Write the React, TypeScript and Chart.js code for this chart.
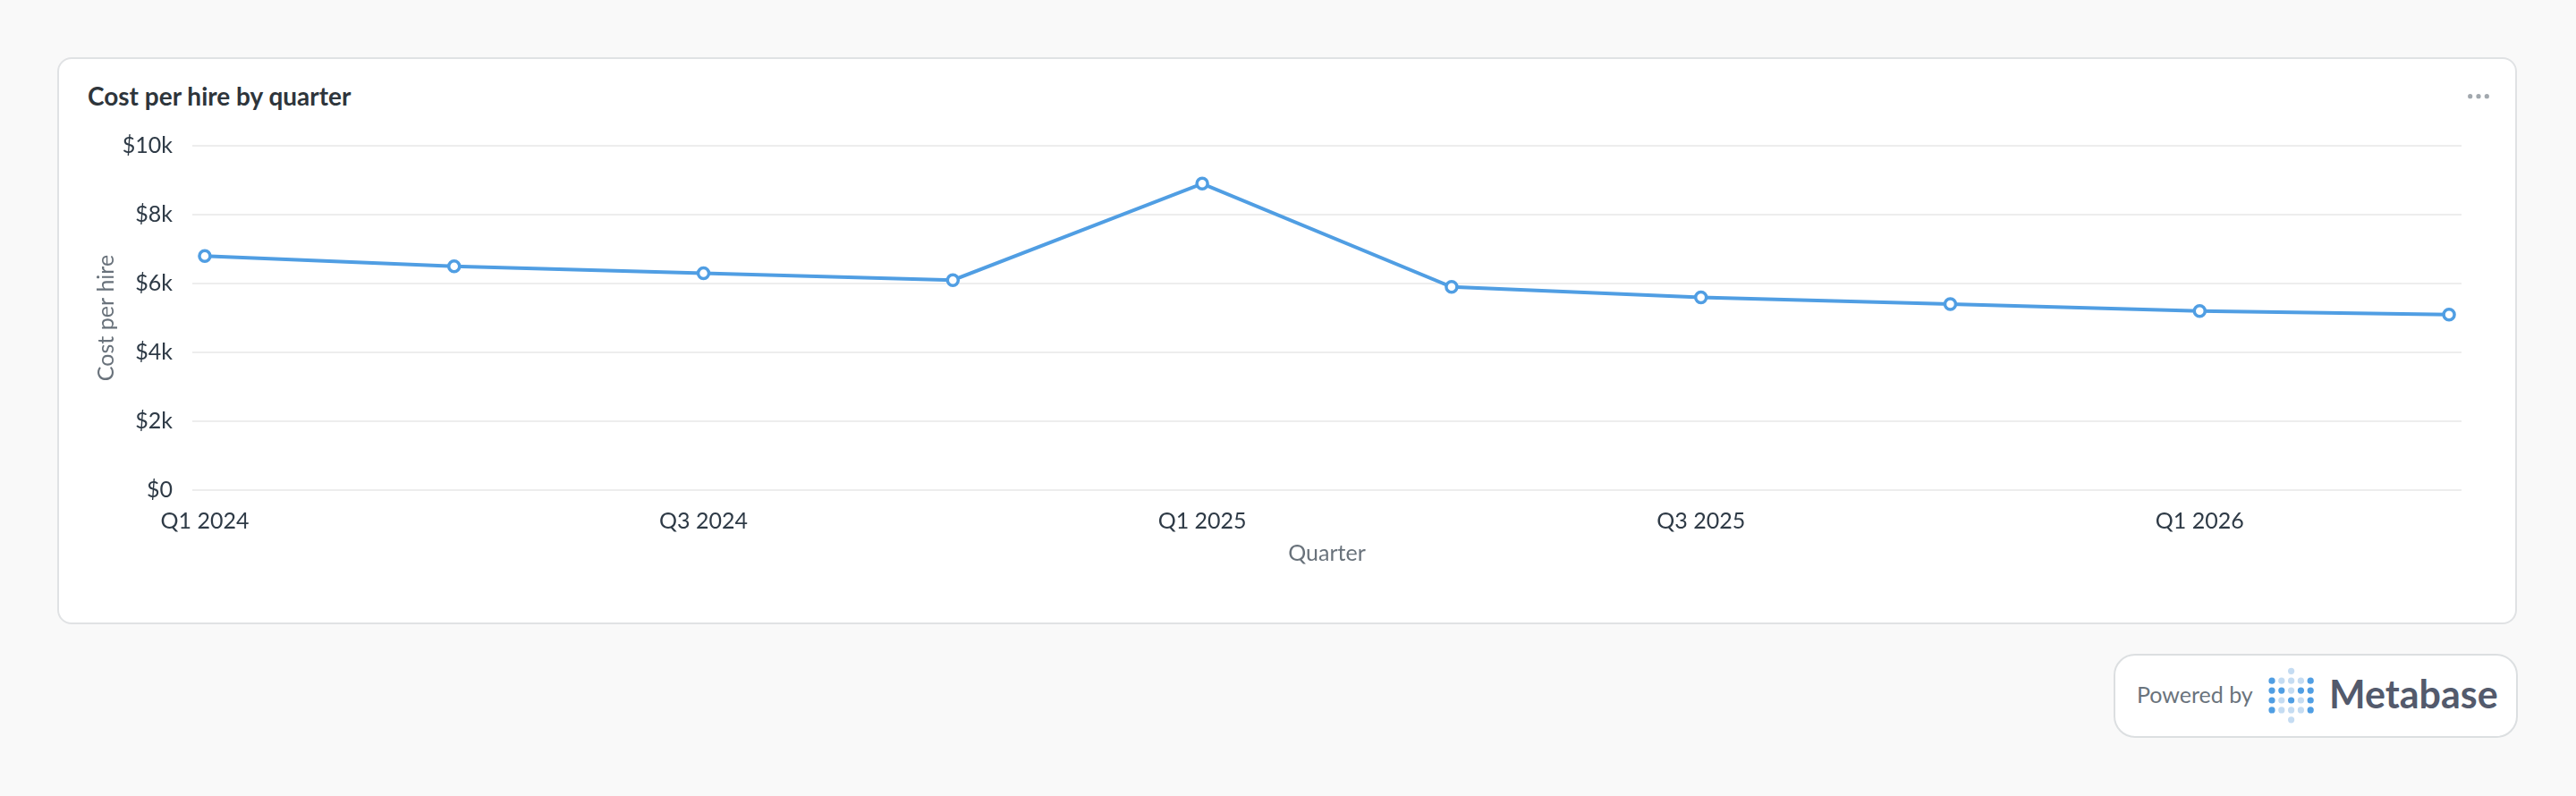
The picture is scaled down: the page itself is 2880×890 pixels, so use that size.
import { useEffect, useRef } from 'react';
import { Chart, ChartConfiguration, registerables } from 'chart.js';

Chart.register(...registerables);

// Chart data
const quarters = [
  'Q1 2024',
  'Q2 2024',
  'Q3 2024',
  'Q4 2024',
  'Q1 2025',
  'Q2 2025',
  'Q3 2025',
  'Q4 2025',
  'Q1 2026',
  'Q2 2026',
];
const costPerHire = [6800, 6500, 6300, 6100, 8900, 5900, 5600, 5400, 5200, 5100];
const yTickValues = [0, 2000, 4000, 6000, 8000, 10000];
const xTickIndexes = [0, 2, 4, 6, 8];

const FONT = "Lato, 'Noto Sans', sans-serif";

// Metabase logo dot pattern: 0 = none, 1 = light, 2 = dark
const logoRows = [
  [0, 0, 1, 0, 0],
  [2, 1, 1, 1, 2],
  [2, 2, 1, 2, 2],
  [2, 1, 2, 1, 2],
  [2, 1, 1, 1, 2],
  [0, 0, 1, 0, 0],
];

function formatMoney(v: number) {
  return v === 0 ? '$0' : `$${v / 1000}k`;
}

function CostChart() {
  const canvasRef = useRef<HTMLCanvasElement>(null);
  const chartRef = useRef<Chart | null>(null);

  useEffect(() => {
    if (!canvasRef.current) return;
    if (chartRef.current) chartRef.current.destroy();

    const ctx = canvasRef.current.getContext('2d');
    if (!ctx) return;

    const config: ChartConfiguration = {
      type: 'line',
      data: {
        datasets: [
          {
            label: 'Cost per hire',
            data: costPerHire.map((v, i) => ({ x: i, y: v })),
            borderColor: '#509ee3',
            borderWidth: 4,
            pointRadius: 6,
            pointBorderWidth: 3.5,
            pointBackgroundColor: '#ffffff',
            pointBorderColor: '#509ee3',
            tension: 0,
          },
        ],
      },
      options: {
        animation: false,
        responsive: true,
        maintainAspectRatio: false,
        layout: { padding: { top: 23, right: 48, left: 0, bottom: 0 } },
        plugins: {
          legend: { display: false },
          tooltip: { enabled: false },
        },
        scales: {
          x: {
            type: 'linear',
            min: -0.05,
            max: 9.05,
            afterBuildTicks: (scale) => {
              scale.ticks = xTickIndexes.map((v) => ({ value: v }));
            },
            afterFit: (scale) => {
              scale.height = 92;
            },
            grid: { display: false, drawTicks: false },
            border: { display: false },
            ticks: {
              autoSkip: false,
              maxRotation: 0,
              padding: 20,
              color: '#2e3a46',
              font: { family: FONT, size: 25 },
              callback: (value) => quarters[Number(value)] ?? '',
            },
            title: {
              display: true,
              text: 'Quarter',
              color: '#69727b',
              font: { family: FONT, size: 25 },
              padding: { top: 0, bottom: 6 },
            },
          },
          y: {
            min: 0,
            max: 10000,
            afterBuildTicks: (scale) => {
              scale.ticks = yTickValues.map((v) => ({ value: v }));
            },
            afterFit: (scale) => {
              scale.width = 115;
              // keep the tick label overflow from pushing the chart area down
              scale.paddingTop = 0;
              scale.paddingBottom = 0;
            },
            grid: { color: '#ededed', lineWidth: 2, drawTicks: false },
            border: { display: false },
            ticks: {
              padding: 22,
              color: '#2e3a46',
              font: { family: FONT, size: 25 },
              callback: (value) => formatMoney(Number(value)),
            },
            title: {
              display: true,
              text: 'Cost per hire',
              color: '#69727b',
              font: { family: FONT, size: 25 },
              padding: { top: 4, bottom: 0 },
            },
          },
        },
      },
    };

    chartRef.current = new Chart(ctx, config);

    return () => {
      if (chartRef.current) {
        chartRef.current.destroy();
        chartRef.current = null;
      }
    };
  }, []);

  return (
    <div style={{ position: 'absolute', left: 100, top: 140, width: 2700, height: 500 }}>
      <canvas ref={canvasRef}></canvas>
    </div>
  );
}

function MetabaseLogo() {
  return (
    <svg
      width={60}
      height={70}
      style={{ position: 'absolute', left: 2532, top: 742 }}
    >
      {logoRows.map((row, r) =>
        row.map((c, col) =>
          c === 0 ? null : (
            <circle
              key={`${r}-${col}`}
              cx={8 + col * 10.8}
              cy={8.3 + r * 10.9}
              r={3.6}
              fill={c === 2 ? '#509ee3' : '#c5dcf2'}
            />
          )
        )
      )}
    </svg>
  );
}

export default function App() {
  return (
    <div
      style={{
        position: 'fixed',
        left: 0,
        top: 0,
        width: 2880,
        height: 890,
        overflow: 'hidden',
        background: '#f9f9f9',
        fontFamily: FONT,
      }}
    >
      {/* card */}
      <div
        style={{
          position: 'absolute',
          left: 64,
          top: 64,
          width: 2750,
          height: 634,
          boxSizing: 'border-box',
          background: '#ffffff',
          border: '2px solid #e0e2e4',
          borderRadius: 16,
        }}
      />
      <div
        style={{
          position: 'absolute',
          left: 98,
          top: 91,
          fontSize: 28,
          lineHeight: '32px',
          fontWeight: 700,
          color: '#2e353b',
          whiteSpace: 'nowrap',
        }}
      >
        Cost per hire by quarter
      </div>
      <svg width={40} height={12} style={{ position: 'absolute', left: 2752, top: 102 }}>
        {[9.7, 19, 28.3].map((cx) => (
          <circle key={cx} cx={cx} cy={5.7} r={2.6} fill="#a2a8ae" />
        ))}
      </svg>
      <CostChart />

      {/* powered by badge */}
      <div
        style={{
          position: 'absolute',
          left: 2363,
          top: 731,
          width: 452,
          height: 94,
          boxSizing: 'border-box',
          background: '#ffffff',
          border: '2px solid #dcdfe1',
          borderRadius: 24,
        }}
      />
      <div
        style={{
          position: 'absolute',
          left: 2389,
          top: 761,
          fontSize: 25,
          lineHeight: '30px',
          color: '#6a737c',
          whiteSpace: 'nowrap',
        }}
      >
        Powered by
      </div>
      <MetabaseLogo />
      <div
        style={{
          position: 'absolute',
          left: 2604,
          top: 750,
          fontSize: 43,
          lineHeight: '52px',
          fontWeight: 700,
          color: '#535a6c',
          whiteSpace: 'nowrap',
        }}
      >
        Metabase
      </div>
    </div>
  );
}
